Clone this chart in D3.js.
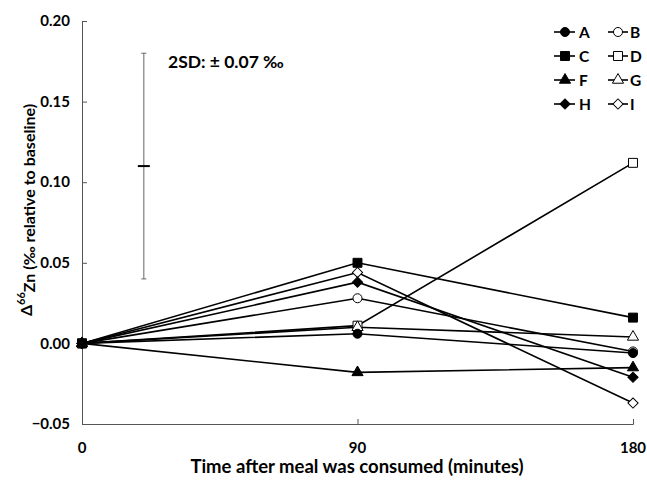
<!DOCTYPE html>
<html><head><meta charset="utf-8">
<script src="https://cdn.jsdelivr.net/npm/d3@7"></script>
<style>body{margin:0;background:#fff}svg{display:block}text{font-family:Lato,"Open Sans",sans-serif;font-weight:bold;fill:#000}</style>
</head><body>
<script>
const times = [0, 90, 180];
const xTicks = [0, 90, 180];
const yTicks = [-0.05, 0, 0.05, 0.10, 0.15, 0.20];
const seriesNames = ["A","B","C","D","F","G","H","I"];
const A = [0, 0.006, -0.006];
const B = [0, 0.028, -0.005];
const C = [0, 0.050, 0.016];
const D = [0, 0.011, 0.112];
const F = [0, -0.018, -0.015];
const G = [0, 0.010, 0.004];
const H = [0, 0.038, -0.021];
const I = [0, 0.044, -0.037];
const errCenter = 0.11, errHalf = 0.07;
const values = {A,B,C,D,F,G,H,I};
const shapes = {A:"circle",B:"circle",C:"square",D:"square",F:"triangle",G:"triangle",H:"diamond",I:"diamond"};
const filled = {A:true,B:false,C:true,D:false,F:true,G:false,H:true,I:false};

const W=647,Hh=480;
const svg=d3.select("body").append("svg").attr("width",W).attr("height",Hh);
const x=d3.scaleLinear().domain([0,180]).range([82,633]);
const y=d3.scaleLinear().domain([-0.05,0.20]).range([424,21]);

// axes
const ya=svg.append("g").attr("transform","translate(82,0)")
  .call(d3.axisRight(y).tickValues(yTicks).tickSize(5).tickFormat(""));
ya.select(".domain").attr("stroke","#555").attr("stroke-width",1);
ya.selectAll(".tick line").attr("stroke","#555");
svg.append("g").selectAll("text").data(yTicks).join("text")
  .attr("x",70).attr("y",d=>y(d)).attr("dy","0.35em").attr("text-anchor","end")
  .attr("font-size",15).text(d=>d3.format(".2f")(d));
const xa=svg.append("g").attr("transform","translate(0,424)")
  .call(d3.axisTop(x).tickValues(xTicks).tickSize(5).tickFormat(""));
xa.select(".domain").attr("stroke","#555").attr("stroke-width",1);
xa.selectAll(".tick line").attr("stroke","#555");
svg.append("g").selectAll("text").data(xTicks).join("text")
  .attr("x",d=>x(d)).attr("y",448).attr("dy","0.35em").attr("text-anchor","middle")
  .attr("font-size",15).text(d=>d);

svg.append("text").attr("x",357).attr("y",467).attr("dy","0.35em").attr("text-anchor","middle")
  .attr("font-size",18.5).text("Time after meal was consumed (minutes)");
const yl=svg.append("text").attr("transform","translate(26,210) rotate(-90)")
  .attr("text-anchor","middle").attr("dy","0.35em").attr("font-size",16);
yl.append("tspan").text("Δ");
yl.append("tspan").attr("font-size",11).attr("dy","-0.6em").text("66");
yl.append("tspan").attr("dy","0.6em").text("Zn (‰ relative to baseline)");

// error bar
const ex=x(20.2);
const eg=svg.append("g").attr("stroke","#666").attr("stroke-width",1);
eg.append("line").attr("x1",ex).attr("x2",ex).attr("y1",y(errCenter+errHalf)).attr("y2",y(errCenter-errHalf));
eg.append("line").attr("x1",ex-2.5).attr("x2",ex+2.5).attr("y1",y(errCenter+errHalf)).attr("y2",y(errCenter+errHalf));
eg.append("line").attr("x1",ex-2.5).attr("x2",ex+2.5).attr("y1",y(errCenter-errHalf)).attr("y2",y(errCenter-errHalf));
svg.append("line").attr("x1",ex-6).attr("x2",ex+6).attr("y1",y(errCenter)).attr("y2",y(errCenter)).attr("stroke","#000").attr("stroke-width",2);
svg.append("text").attr("x",168).attr("y",62).attr("dy","0.35em").attr("font-size",17.5).text("2SD: ± 0.07 ‰");

function sym(name){
  const s=shapes[name];
  if(s==="circle") return d3.symbol(d3.symbolCircle,64)();
  if(s==="square"||s==="diamond") return d3.symbol(d3.symbolSquare,s==="square"?80:52)();
  return d3.symbol(d3.symbolTriangle,54)();
}
function drawMarker(g,name,cx,cy){
  g.append("path").attr("d",sym(name))
   .attr("transform",`translate(${cx},${cy})`+(shapes[name]==="diamond"?" rotate(45)":""))
   .attr("fill",filled[name]?"#000":"#fff").attr("stroke","#000").attr("stroke-width",1);
}
const line=d3.line().x((d,i)=>x(times[i])).y(d=>y(d));
const order=["B","D","G","I","A","F","H","C"];
order.forEach(n=>{
  svg.append("path").attr("d",line(values[n])).attr("fill","none").attr("stroke","#000").attr("stroke-width",1.6);
});
order.forEach(n=>{
  const g=svg.append("g");
  values[n].forEach((v,i)=>drawMarker(g,n,x(times[i]),y(v)));
});

// legend
const legRows=[["A","B"],["C","D"],["F","G"],["H","I"]];
const colX=[[554,575,565,579],[608,628,618,630]];
legRows.forEach((row,ri)=>{
  const ly=32+ri*24;
  row.forEach((n,ci)=>{
    const [x1,x2,mx,tx]=colX[ci];
    const g=svg.append("g");
    g.append("line").attr("x1",x1).attr("x2",x2).attr("y1",ly).attr("y2",ly).attr("stroke","#000").attr("stroke-width",1.6);
    drawMarker(g,n,mx,ly);
    g.append("text").attr("x",tx).attr("y",ly).attr("dy","0.36em").attr("font-size",15.5).text(n);
  });
});
</script>
</body></html>
